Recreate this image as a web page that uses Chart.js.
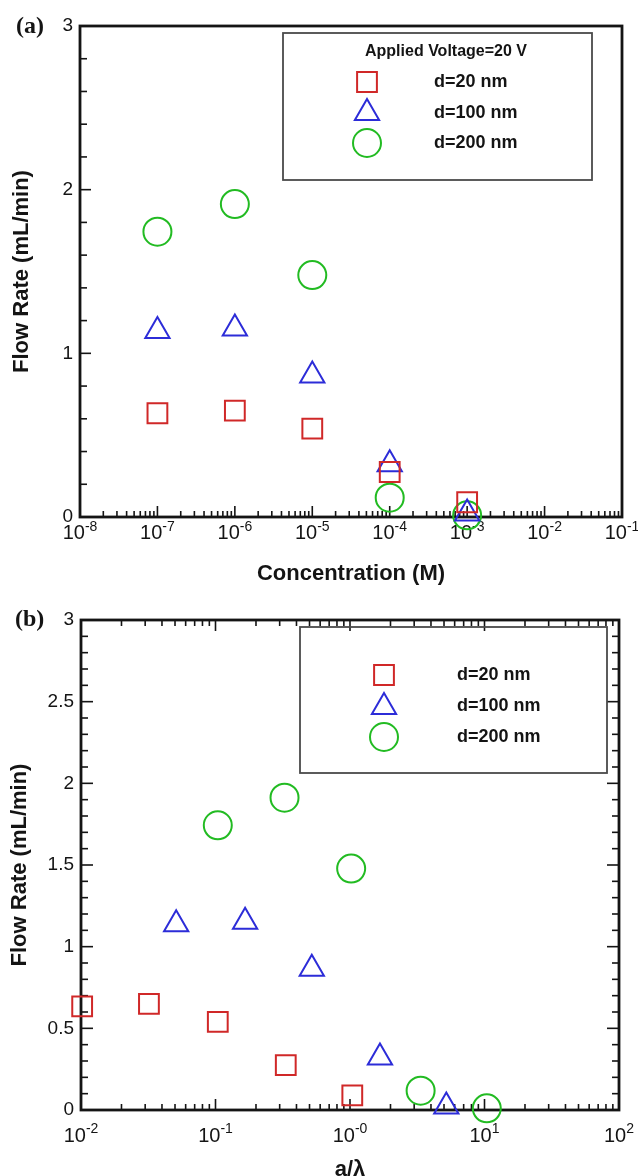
<!DOCTYPE html>
<html>
<head>
<meta charset="utf-8">
<title>Flow rate vs concentration and a/λ</title>
<script src="https://cdn.jsdelivr.net/npm/chart.js@4.4.1/dist/chart.umd.min.js"></script>
<style>
  html, body { margin: 0; padding: 0; background: #fff; }
  body { width: 638px; height: 1176px; overflow: hidden; }
  canvas { display: block; }
  #wrapB { width: 638px; height: 586px; overflow: hidden; }
</style>
</head>
<body>
<canvas id="panelA" width="638" height="590"></canvas>
<div id="wrapB"><canvas id="panelB" width="638" height="600"></canvas></div>
<script>
// series names
const seriesNames = ["d=20 nm", "d=100 nm", "d=200 nm"];

// panel (a): concentration (M)
const concentration = [1e-7, 1e-6, 1e-5, 1e-4, 1e-3];

// flow rate (mL/min)
const flow20 = [0.634, 0.65, 0.54, 0.275, 0.09];
const flow100 = [1.137, 1.152, 0.865, 0.322, 0.022];
const flow200 = [1.743, 1.912, 1.478, 0.118, 0.01];

// panel (b): a/lambda for each pore size
const ratio20 = [0.0102, 0.032, 0.104, 0.333, 1.04];
const ratio100 = [0.051, 0.166, 0.52, 1.67, 5.2];
const ratio200 = [0.104, 0.326, 1.02, 3.35, 10.4];

// tick labels (10 with a superscript)
const concTickExp = [-8, -7, -6, -5, -4, -3, -2, -1];
const concTickSup = ["-8", "-7", "-6", "-5", "-4", "-3", "-2", "-1"];
const ratioTickExp = [-2, -1, 0, 1, 2];
const ratioTickSup = ["-2", "-1", "-0", "1", "2"];

const SANS = '"Liberation Sans", Arial, sans-serif';
const INK = "#141414";
const colors = ["#d02828", "#2c2cd8", "#22bb22"];
const styles = ["rect", "triangle", "circle"];

Chart.defaults.font.family = SANS;
Chart.defaults.color = INK;

function makeSets(xs, ys) {
  return ys.map((vals, i) => ({
    label: seriesNames[i],
    data: vals.map((v, j) => ({ x: xs[i][j], y: v })),
    pointStyle: styles[i],
    pointRadius: 14,
    pointHoverRadius: 14,
    pointBorderWidth: 2,
    borderColor: colors[i],
    backgroundColor: "rgba(0,0,0,0)",
    showLine: false,
    clip: false,
  }));
}

// box round the plot, inward ticks, x labels with superscripts, panel letter
const framePlugin = {
  id: "frame",
  beforeDatasetsDraw(chart, args, o) {
    const { ctx, chartArea: a, scales: { x, y } } = chart;
    ctx.save();
    ctx.strokeStyle = INK;
    ctx.lineWidth = 1.6;

    const tickAt = (edge, p, len) => {
      ctx.beginPath();
      if (edge === "bottom") { ctx.moveTo(p, a.bottom); ctx.lineTo(p, a.bottom - len); }
      if (edge === "top") { ctx.moveTo(p, a.top); ctx.lineTo(p, a.top + len); }
      if (edge === "left") { ctx.moveTo(a.left, p); ctx.lineTo(a.left + len, p); }
      if (edge === "right") { ctx.moveTo(a.right, p); ctx.lineTo(a.right - len, p); }
      ctx.stroke();
    };

    o.edges.forEach((edge) => {
      if (edge === "bottom" || edge === "top") {
        const e0 = Math.floor(Math.log10(x.min));
        const e1 = Math.ceil(Math.log10(x.max));
        for (let e = e0; e <= e1; e++) {
          for (let k = 1; k <= 9; k++) {
            const v = k * Math.pow(10, e);
            if (v < x.min * 0.999 || v > x.max * 1.001) continue;
            tickAt(edge, x.getPixelForValue(v), k === 1 ? o.xMajor : o.xMinor);
          }
        }
      } else {
        const n = Math.round((y.max - y.min) / o.yStep);
        for (let i = 0; i <= n; i++) {
          const v = y.min + i * o.yStep;
          const isMajor = Math.abs(v / o.yLabelStep - Math.round(v / o.yLabelStep)) < 1e-6;
          tickAt(edge, y.getPixelForValue(v), isMajor ? o.yMajor : o.yMinor);
        }
      }
    });

    ctx.lineWidth = 2.8;
    ctx.strokeRect(a.left, a.top, a.right - a.left, a.bottom - a.top);

    // x tick labels
    ctx.fillStyle = INK;
    ctx.textBaseline = "alphabetic";
    ctx.textAlign = "left";
    o.exps.forEach((e, i) => {
      const px = x.getPixelForValue(Math.pow(10, e));
      ctx.font = o.baseSize + "px " + SANS;
      const wb = ctx.measureText("10").width;
      ctx.font = o.supSize + "px " + SANS;
      const ws = ctx.measureText(o.sups[i]).width;
      const x0 = px - (wb + ws) / 2;
      ctx.font = o.baseSize + "px " + SANS;
      ctx.fillText("10", x0, o.labelY);
      ctx.font = o.supSize + "px " + SANS;
      ctx.fillText(o.sups[i], x0 + wb, o.labelY - o.supRise);
    });

    // panel letter
    ctx.font = 'bold 24px "Liberation Serif", "Times New Roman", serif';
    ctx.textBaseline = "middle";
    ctx.fillText(o.letter, o.letterX, o.letterY);
    ctx.restore();
  },
};

// legend box inside the plot
const boxLegendPlugin = {
  id: "boxLegend",
  afterDraw(chart, args, o) {
    const ctx = chart.ctx;
    const [x1, y1, x2, y2] = o.box;
    ctx.save();
    ctx.strokeStyle = "#4a4a4a";
    ctx.lineWidth = 1.8;
    ctx.strokeRect(x1, y1, x2 - x1, y2 - y1);
    ctx.fillStyle = INK;
    ctx.textBaseline = "middle";
    if (o.title) {
      ctx.font = "bold 16px " + SANS;
      ctx.textAlign = "center";
      ctx.fillText(o.title, o.titleX, o.titleY);
    }
    ctx.textAlign = "left";
    chart.data.datasets.forEach((ds, i) => {
      ctx.strokeStyle = ds.borderColor;
      ctx.fillStyle = "rgba(0,0,0,0)";
      ctx.lineWidth = ds.pointBorderWidth;
      Chart.helpers.drawPoint(ctx, {
        pointStyle: ds.pointStyle,
        radius: ds.pointRadius,
        borderWidth: ds.pointBorderWidth,
        rotation: 0,
      }, o.markerX, o.markerY[i]);
      ctx.fillStyle = INK;
      ctx.font = "bold 18px " + SANS;
      ctx.fillText(ds.label, o.textX, o.textY[i]);
    });
    ctx.restore();
  },
};

function yAxis(step, width, titlePad) {
  return {
    min: 0,
    max: 3,
    ticks: {
      stepSize: step,
      padding: 7,
      font: { size: 19 },
      color: INK,
      callback: (v) => String(v),
    },
    grid: { display: false, drawTicks: false },
    border: { display: false },
    title: {
      display: true,
      text: "Flow Rate (mL/min)",
      font: { size: 22, weight: "bold" },
      padding: { top: titlePad, bottom: 0 },
      color: INK,
    },
    afterFit(s) { s.width = width; },
  };
}

function xAxis(min, max, text, height, pad) {
  return {
    type: "logarithmic",
    min: min,
    max: max,
    ticks: { display: false },
    grid: { display: false, drawTicks: false },
    border: { display: false },
    title: {
      display: true,
      text: text,
      font: { size: 22, weight: "bold" },
      padding: { top: 0, bottom: pad },
      color: INK,
    },
    afterFit(s) { s.height = height; },
  };
}

const common = {
  responsive: false,
  animation: false,
  events: [],
};

new Chart(document.getElementById("panelA"), {
  type: "scatter",
  data: {
    datasets: makeSets([concentration, concentration, concentration], [flow20, flow100, flow200]),
  },
  options: {
    ...common,
    layout: { padding: { top: 26, right: 16, left: 0, bottom: 0 } },
    scales: {
      x: xAxis(1e-8, 1e-1, "Concentration (M)", 73, 3),
      y: yAxis(1, 80, 9),
    },
    plugins: {
      legend: { display: false },
      tooltip: { enabled: false },
      frame: {
        edges: ["bottom", "left"],
        xMajor: 11, xMinor: 6,
        yStep: 0.2, yLabelStep: 1, yMajor: 11, yMinor: 7,
        exps: concTickExp, sups: concTickSup,
        baseSize: 20, supSize: 14, supRise: 8, labelY: 539,
        letter: "(a)", letterX: 16, letterY: 27,
      },
      boxLegend: {
        box: [283, 33, 592, 180],
        title: "Applied Voltage=20 V", titleX: 446, titleY: 52,
        markerX: 367, markerY: [82, 113, 143],
        textX: 434, textY: [82, 113, 143],
      },
    },
  },
  plugins: [framePlugin, boxLegendPlugin],
});

new Chart(document.getElementById("panelB"), {
  type: "scatter",
  data: {
    datasets: makeSets([ratio20, ratio100, ratio200], [flow20, flow100, flow200]),
  },
  options: {
    ...common,
    layout: { padding: { top: 30, right: 19, left: 0, bottom: 0 } },
    scales: {
      x: xAxis(1e-2, 1e2, "a/λ", 80, 7),
      y: yAxis(0.5, 81, 7),
    },
    plugins: {
      legend: { display: false },
      tooltip: { enabled: false },
      frame: {
        edges: ["bottom", "left", "top", "right"],
        xMajor: 11, xMinor: 6,
        yStep: 0.1, yLabelStep: 0.5, yMajor: 12, yMinor: 7,
        exps: ratioTickExp, sups: ratioTickSup,
        baseSize: 20, supSize: 14, supRise: 9, labelY: 552,
        letter: "(b)", letterX: 15, letterY: 30,
      },
      boxLegend: {
        box: [300, 37, 607, 183],
        title: "",
        markerX: 384, markerY: [85, 117, 147],
        textX: 457, textY: [85, 116, 147],
      },
    },
  },
  plugins: [framePlugin, boxLegendPlugin],
});
</script>
</body>
</html>
